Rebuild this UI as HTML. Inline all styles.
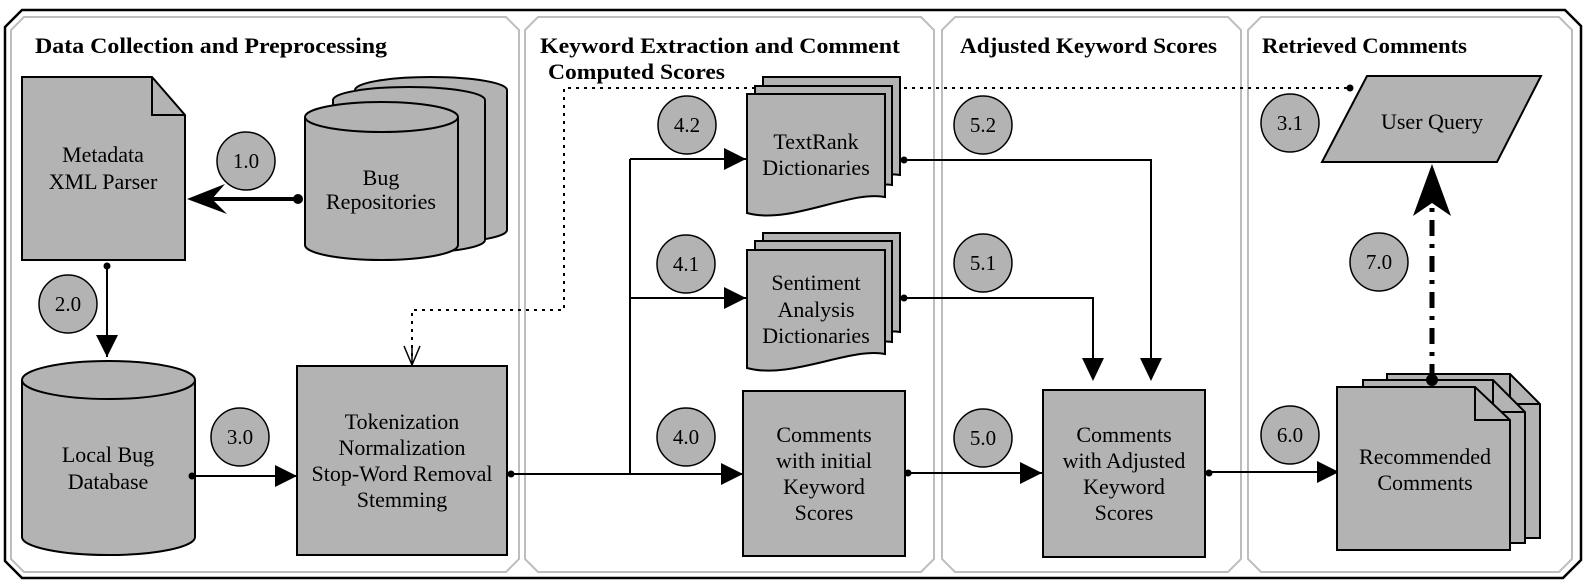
<!DOCTYPE html>
<html><head><meta charset="utf-8"><style>
html,body{margin:0;padding:0;background:#fff;}
svg{display:block;font-family:"Liberation Serif","DejaVu Serif",serif;}
text{font-family:"Liberation Serif","DejaVu Serif",serif;fill:#000;}
.t{font-size:22px;text-anchor:middle;}
.c{font-size:21px;text-anchor:middle;}
.h{font-size:22px;font-weight:bold;}
.s{fill:#b3b3b3;stroke:#000;stroke-width:2;}
.p{fill:none;stroke:#bdbdbd;stroke-width:2;}
.l{fill:none;stroke:#000;stroke-width:2;}
</style></head><body>
<svg width="1588" height="586" viewBox="0 0 1588 586" xmlns="http://www.w3.org/2000/svg" font-family="Liberation Serif, DejaVu Serif, serif">
<defs>
<marker id="ah" markerWidth="24" markerHeight="24" refX="22" refY="11" orient="auto" markerUnits="userSpaceOnUse"><path d="M0,0 L22,11 L0,22 Z" fill="#000"/></marker>
</defs>
<path d="M22,10 H1565 L1581,26 V560 L1563,578 H22 L5,561 V27 Z" fill="none" stroke="#000" stroke-width="2.5"/>
<path class="p" d="M24,17 H506 L519,30 V559 L506,572 H24 L11,559 V30 Z"/>
<path class="p" d="M538,17 H921 L934,30 V559 L921,572 H538 L525,559 V30 Z"/>
<path class="p" d="M955,17 H1228 L1241,30 V559 L1228,572 H955 L942,559 V30 Z"/>
<path class="p" d="M1261,17 H1559 L1572,30 V559 L1559,572 H1261 L1248,559 V30 Z"/>
<text class="h" x="35" y="53" textLength="352" lengthAdjust="spacingAndGlyphs">Data Collection and Preprocessing</text>
<text class="h" x="540" y="53" textLength="360" lengthAdjust="spacingAndGlyphs">Keyword Extraction and Comment</text>
<text class="h" x="548" y="79" textLength="177" lengthAdjust="spacingAndGlyphs">Computed Scores</text>
<text class="h" x="960" y="53" textLength="257" lengthAdjust="spacingAndGlyphs">Adjusted Keyword Scores</text>
<text class="h" x="1262" y="53" textLength="205" lengthAdjust="spacingAndGlyphs">Retrieved Comments</text>

<path d="M412,364 V310 H564 V88 H1349" fill="none" stroke="#000" stroke-width="2" stroke-dasharray="3,5"/>
<path d="M404,346 L412,365 L420,346 M412,346 V365" fill="none" stroke="#000" stroke-width="1.5"/>
<circle cx="1350" cy="88" r="3.5"/>

<path class="s" d="M22,77 H152 L185,115 V260 H22 Z"/>
<path class="l" d="M152,77 V115 H185"/>
<text class="t" x="103" y="162">Metadata</text>
<text class="t" x="103" y="189">XML Parser</text>

<path class="s" d="M355,90 A76,13 0 0 1 507,90 V230 A76,13 0 0 1 355,230 Z"/>
<path class="s" d="M333,100 A76,13 0 0 1 485,100 V240 A76,13 0 0 1 333,240 Z"/>
<path class="s" d="M305,117 A76.5,15 0 0 1 458,117 V245 A76.5,15 0 0 1 305,245 Z"/>
<path class="l" d="M305,117 A76.5,15 0 0 0 458,117"/>
<text class="t" x="381" y="185">Bug</text>
<text class="t" x="381" y="209">Repositories</text>

<line x1="298" y1="199" x2="205" y2="199" stroke="#000" stroke-width="4"/>
<circle cx="298" cy="199" r="5"/>
<path d="M187,199 L225,184 L212,199 L227,214 Z" fill="#000"/>

<circle cx="107" cy="266" r="3.5"/>
<line class="l" x1="107" y1="266" x2="107" y2="357" marker-end="url(#ah)"/>

<path class="s" d="M22,380 A86.5,19 0 0 1 195,380 V537 A86.5,18 0 0 1 22,537 Z"/>
<path class="l" d="M22,380 A86.5,19 0 0 0 195,380"/>
<text class="t" x="108" y="462">Local Bug</text>
<text class="t" x="108" y="489">Database</text>

<circle cx="192" cy="476" r="3.5"/>
<line class="l" x1="192" y1="476" x2="297" y2="476" marker-end="url(#ah)"/>

<rect class="s" x="297" y="366" width="210" height="189"/>
<text class="t" x="402" y="429">Tokenization</text>
<text class="t" x="402" y="455">Normalization</text>
<text class="t" x="402" y="481">Stop-Word Removal</text>
<text class="t" x="402" y="507">Stemming</text>

<circle cx="511" cy="474" r="3.5"/>
<path class="l" d="M511,474 H630 M630,474 V159"/>
<line class="l" x1="630" y1="159" x2="746" y2="159" marker-end="url(#ah)"/>
<line class="l" x1="630" y1="298" x2="746" y2="298" marker-end="url(#ah)"/>
<line class="l" x1="630" y1="474" x2="743" y2="474" marker-end="url(#ah)"/>

<path class="s" d="M763,77 H900 V175 C870,170 800,195 763,190 Z"/>
<path class="s" d="M755,86 H892 V185 C862,180 792,205 755,200 Z"/>
<path class="s" d="M747,94 H885 V197 C850,190 790,225 747,213 Z"/>
<text class="t" x="816" y="149">TextRank</text>
<text class="t" x="816" y="175">Dictionaries</text>
<circle cx="904" cy="160" r="3.5"/>

<path class="s" d="M763,233 H900 V332 C870,327 800,352 763,347 Z"/>
<path class="s" d="M755,241 H892 V342 C862,337 792,362 755,357 Z"/>
<path class="s" d="M747,250 H885 V354 C850,347 790,380 747,368 Z"/>
<text class="t" x="816" y="290">Sentiment</text>
<text class="t" x="816" y="317">Analysis</text>
<text class="t" x="816" y="343">Dictionaries</text>
<circle cx="904" cy="298" r="3.5"/>

<rect class="s" x="743" y="391" width="162" height="165"/>
<text class="t" x="824" y="442">Comments</text>
<text class="t" x="824" y="468">with initial</text>
<text class="t" x="824" y="494">Keyword</text>
<text class="t" x="824" y="520">Scores</text>

<path class="l" d="M904,160 H1151 V362"/>
<path class="l" d="M904,298 H1093 V362"/>
<path d="M1140,358 L1151,381 L1162,358 Z"/>
<path d="M1082,358 L1093,381 L1104,358 Z"/>
<circle cx="908" cy="473" r="3.5"/>
<line class="l" x1="908" y1="473" x2="1042" y2="473" marker-end="url(#ah)"/>

<rect class="s" x="1043" y="390" width="162" height="167"/>
<text class="t" x="1124" y="442">Comments</text>
<text class="t" x="1124" y="468">with Adjusted</text>
<text class="t" x="1124" y="494">Keyword</text>
<text class="t" x="1124" y="520">Scores</text>
<circle cx="1209" cy="473" r="3.5"/>
<line class="l" x1="1209" y1="472" x2="1339" y2="472" marker-end="url(#ah)"/>

<path class="s" d="M1367,76 H1541 L1497,162 H1322 Z"/>
<text class="t" x="1432" y="129">User Query</text>

<path class="s" d="M1387,374 H1510 L1540,404 V538 H1387 Z"/>
<path class="l" d="M1510,374 V404 H1540"/>
<path class="s" d="M1363,380 H1493 L1525,412 V543 H1363 Z"/>
<path class="l" d="M1493,380 V412 H1525"/>
<path class="s" d="M1337,387 H1475 L1510,420 V550 H1337 Z"/>
<path class="l" d="M1475,387 V420 H1510"/>
<text class="t" x="1425" y="464">Recommended</text>
<text class="t" x="1425" y="490">Comments</text>

<line x1="1432" y1="380" x2="1432" y2="200" stroke="#000" stroke-width="5" stroke-dasharray="16,8,4,8"/>
<circle cx="1432" cy="380" r="6"/>
<path d="M1432,164 L1451,216 L1432,203 L1413,216 Z" fill="#000"/>

<g fill="#b3b3b3" stroke="#000" stroke-width="1.5">
<circle cx="246" cy="161" r="29"/>
<circle cx="68" cy="304" r="29"/>
<circle cx="240" cy="437" r="29"/>
<circle cx="687" cy="125" r="29"/>
<circle cx="686" cy="264" r="29"/>
<circle cx="686" cy="437" r="29"/>
<circle cx="983" cy="125" r="29"/>
<circle cx="983" cy="263" r="29"/>
<circle cx="983" cy="438" r="29"/>
<circle cx="1290" cy="123" r="29"/>
<circle cx="1379" cy="262" r="29"/>
<circle cx="1290" cy="435" r="29"/>
</g>
<g>
<text class="c" x="246" y="168">1.0</text>
<text class="c" x="68" y="311">2.0</text>
<text class="c" x="240" y="444">3.0</text>
<text class="c" x="687" y="132">4.2</text>
<text class="c" x="686" y="271">4.1</text>
<text class="c" x="686" y="444">4.0</text>
<text class="c" x="983" y="132">5.2</text>
<text class="c" x="983" y="270">5.1</text>
<text class="c" x="983" y="445">5.0</text>
<text class="c" x="1290" y="130">3.1</text>
<text class="c" x="1379" y="269">7.0</text>
<text class="c" x="1290" y="442">6.0</text>
</g>
</svg>
</body></html>
